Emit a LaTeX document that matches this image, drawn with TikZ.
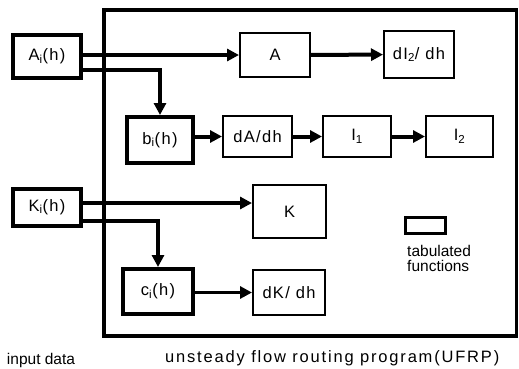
\documentclass[tikz,border=0pt]{standalone}
\usepackage{fontspec}
\setmainfont{Liberation Sans}
\newfontfamily\widesf[LetterSpace=8]{Liberation Sans}
\newfontfamily\capsf[LetterSpace=11]{Liberation Sans}
\usetikzlibrary{arrows.meta}

\begin{document}
\begin{tikzpicture}[x=1pt,y=-1pt,
  box/.style = {draw, line width=2pt, inner sep=0pt, font=\widesf\fontsize{16.5}{18}\selectfont},
  inbox/.style = {box, line width=4pt},
  arr/.style = {line width=4pt, -{Triangle[length=12pt,width=12pt]}},
  lbl/.style = {inner sep=0pt, font=\fontsize{15.5}{15.5}\selectfont}]
\useasboundingbox (0,0) rectangle (519,368);
% frame of the program
\draw[line width=3.5pt] (104,10) -- (516.5,10) -- (516.5,336) -- (104,336) -- cycle;
% input data
\node[inbox, minimum width=68, minimum height=43] (ai) at (47,56.5) {A\textsubscript{i}(h)};
\node[inbox, minimum width=68, minimum height=37] (ki) at (47,207) {K\textsubscript{i}(h)};
% tabulated functions
\node[inbox, minimum width=66, minimum height=46] (bi) at (160,140) {b\textsubscript{i}(h)};
\node[inbox, minimum width=70, minimum height=45] (ci) at (158,291.5) {c\textsubscript{i}(h)};
\node[box, minimum width=70, minimum height=44] (a) at (275,55) {A};
\node[box, minimum width=70, minimum height=47] (di2) at (419,54.5) {dI\textsubscript{2}/ dh};
\node[box, minimum width=69, minimum height=41] (da) at (257.5,136.5) {dA/dh};
\node[box, minimum width=68, minimum height=41] (i1) at (357,136.5) {I\textsubscript{1}};
\node[box, minimum width=67, minimum height=41] (i2) at (459.5,136.5) {I\textsubscript{2}};
\node[box, minimum width=73, minimum height=53] (k) at (289.5,211.5) {K};
\node[box, minimum width=72, minimum height=45] (dk) at (289,292.5) {dK/ dh};
% legend
\node[inbox, line width=3pt, minimum width=40, minimum height=16] (leg) at (425,225) {};
\node[lbl, align=left, anchor=north west] (legtxt) at (407,245) {tabulated\\functions};
% connectors
\draw[arr] (ai.east |- a.west) -- (a.west);
\draw[arr] ([yshift=-13.5pt]ai.east) -| (bi.north);
\coordinate (k1) at ([yshift=4pt]ki.east);
\draw[arr, line width=3.5pt] (k1) -- (k1 -| k.west);
\draw[arr] ([yshift=-14pt]ki.east) -| (ci.north);
\draw[arr] (a) -- (di2);
\draw[arr] (bi.east |- da) -- (da.west);
\draw[arr] (da) -- (i1);
\draw[arr] (i1) -- (i2);
\draw[arr, line width=3.5pt] (ci.east |- dk) -- (dk.west);
% captions
\node[lbl] (cin) at (41,360) {input data};
\node[lbl, anchor=west, font=\capsf\fontsize{16.5}{14}\selectfont] (cprog) at (165,358) {unsteady flow routing program(UFRP)};
\end{tikzpicture}
\end{document}
